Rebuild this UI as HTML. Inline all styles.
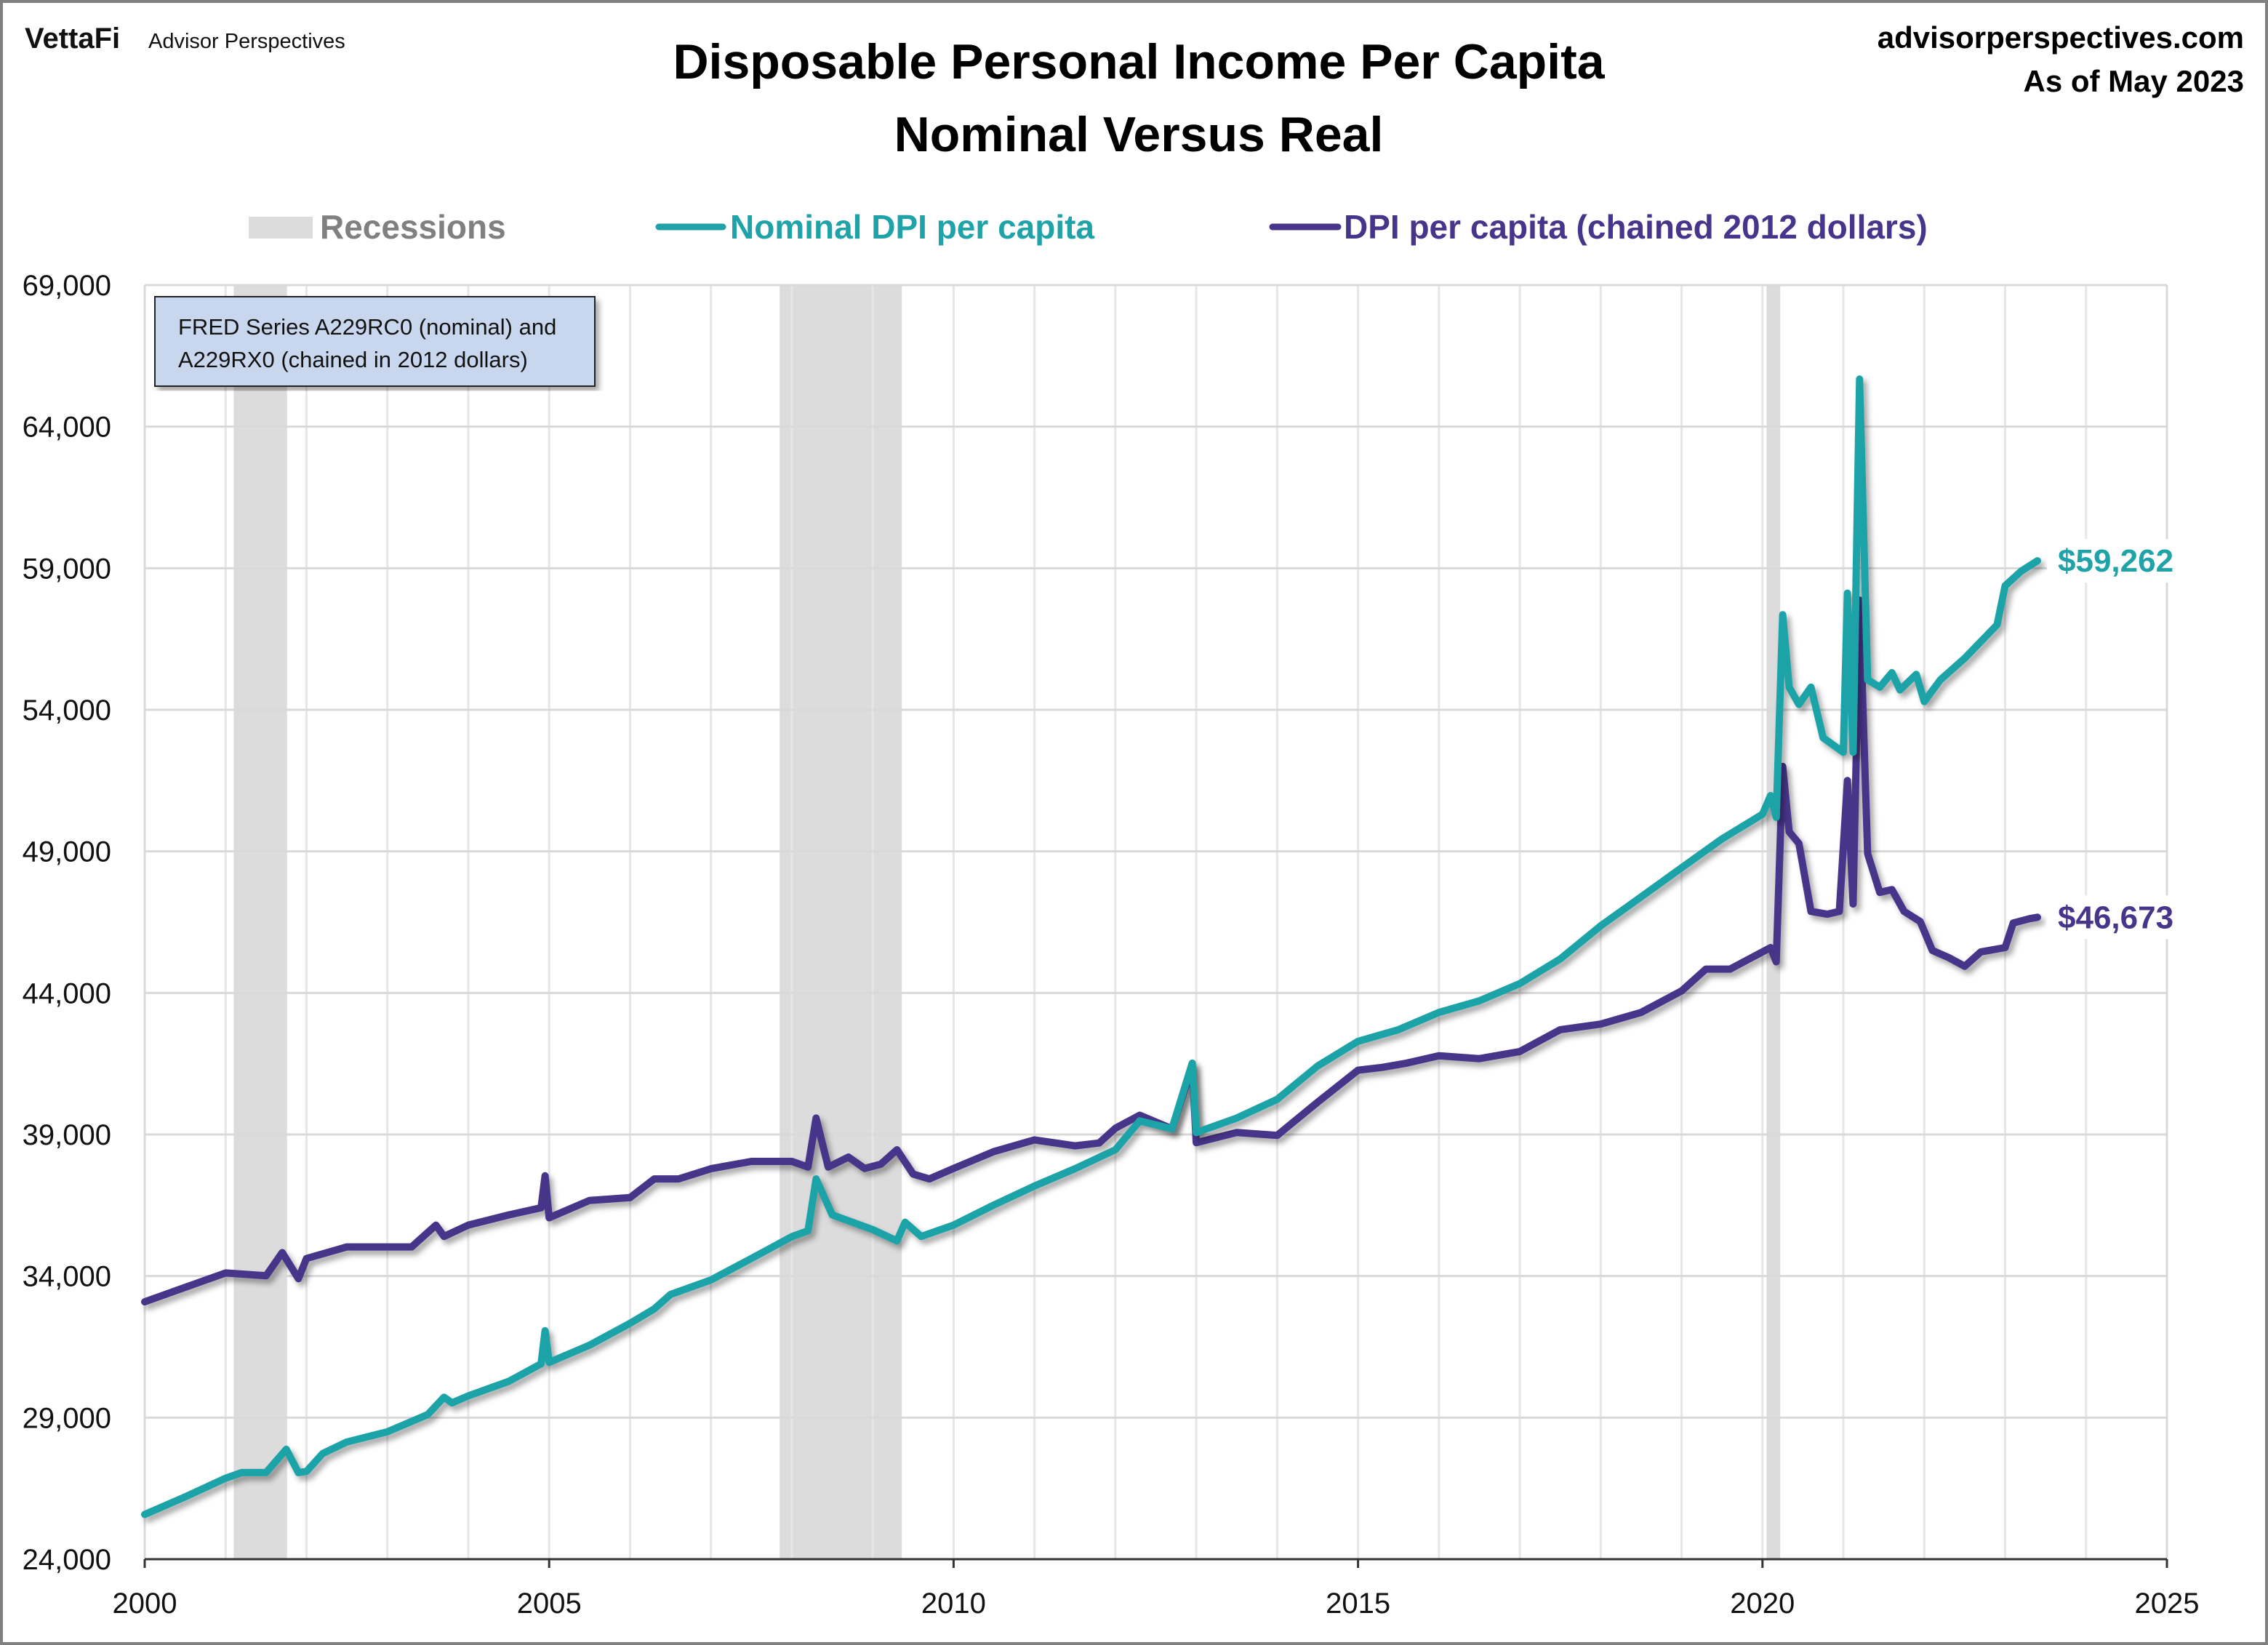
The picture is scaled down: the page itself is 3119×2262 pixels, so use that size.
<!DOCTYPE html>
<html><head><meta charset="utf-8">
<style>
html,body{margin:0;padding:0;background:#fff;}
svg{display:block;font-family:"Liberation Sans",sans-serif;}
</style></head>
<body>
<svg id="chart" width="3119" height="2262" viewBox="0 0 3119 2262" xmlns="http://www.w3.org/2000/svg">
<defs>
<filter id="shadow" x="-5%" y="-5%" width="110%" height="110%">
<feDropShadow dx="5" dy="6" stdDeviation="4" flood-color="#000" flood-opacity="0.35"/>
</filter>
</defs>
<rect x="2" y="2" width="3115" height="2258" fill="#fff" stroke="#808080" stroke-width="4"/>
<text x="34" y="66" font-size="40" font-weight="bold" fill="#111">VettaFi</text>
<text x="204" y="66" font-size="29" fill="#111">Advisor Perspectives</text>
<text x="1566" y="108" font-size="68" font-weight="bold" text-anchor="middle" fill="#000">Disposable Personal Income Per Capita</text>
<text x="1566" y="208" font-size="68" font-weight="bold" text-anchor="middle" fill="#000">Nominal Versus Real</text>
<text x="3086" y="66" font-size="42" font-weight="bold" text-anchor="end" fill="#000">advisorperspectives.com</text>
<text x="3086" y="126" font-size="42" font-weight="bold" text-anchor="end" fill="#000">As of May 2023</text>

<g>
<rect x="342" y="298" width="88" height="30" fill="#dcdcdc"/>
<text x="440" y="328" font-size="46" font-weight="bold" fill="#808080">Recessions</text>
<line x1="906" y1="312" x2="994" y2="312" stroke="#1fa3a8" stroke-width="9" stroke-linecap="round"/>
<text x="1004" y="328" font-size="46" font-weight="bold" fill="#1fa3a8">Nominal DPI per capita</text>
<line x1="1750" y1="312" x2="1840" y2="312" stroke="#46358a" stroke-width="9" stroke-linecap="round"/>
<text x="1848" y="328" font-size="46" font-weight="bold" fill="#46358a">DPI per capita (chained 2012 dollars)</text>
</g>

<g id="recG"></g>
<g id="gridG"></g>
<g id="axisG"></g>
<g id="lineG"></g>

<g>
<rect x="213" y="408" width="605" height="123" fill="#c9d7ee" stroke="#222" stroke-width="2" filter="url(#shadow)"/>
<text x="245" y="460" font-size="31" fill="#111">FRED Series A229RC0 (nominal) and</text>
<text x="245" y="505" font-size="31" fill="#111">A229RX0 (chained in 2012 dollars)</text>
</g>
<g id="endG"></g>
</svg>
<script>
const yTicks=[24000,29000,34000,39000,44000,49000,54000,59000,64000,69000];
const xTickYears=[2000,2005,2010,2015,2020,2025];
const recessionStarts=[2001.1,2007.85,2020.05];
const recessionEnds=[2001.76,2009.36,2020.22];
const nominalDates=[2000.0,2000.5,2001.0,2001.2,2001.5,2001.75,2001.9,2002.0,2002.2,2002.5,2003.0,2003.5,2003.7,2003.8,2004.0,2004.5,2004.9,2004.95,2005.0,2005.5,2006.0,2006.3,2006.5,2007.0,2007.5,2008.0,2008.2,2008.3,2008.5,2009.0,2009.3,2009.4,2009.6,2010.0,2010.5,2011.0,2011.5,2012.0,2012.3,2012.7,2012.95,2013.0,2013.5,2014.0,2014.5,2015.0,2015.5,2016.0,2016.5,2017.0,2017.5,2018.0,2018.5,2019.0,2019.5,2020.0,2020.1,2020.17,2020.25,2020.33,2020.45,2020.6,2020.75,2021.0,2021.05,2021.12,2021.2,2021.3,2021.45,2021.6,2021.7,2021.9,2022.0,2022.2,2022.5,2022.9,2023.0,2023.2,2023.4];
const nominalValues=[25580,26200,26860,27060,27060,27880,27060,27100,27730,28140,28500,29110,29720,29520,29770,30280,30900,32070,30950,31560,32330,32840,33350,33860,34620,35390,35600,37430,36160,35640,35240,35900,35400,35800,36510,37180,37790,38460,39480,39200,41520,39070,39580,40240,41420,42290,42700,43310,43720,44330,45200,46370,47390,48420,49440,50310,50970,50200,57360,54800,54190,54800,53010,52500,58120,52500,65680,55060,54800,55310,54700,55250,54290,55060,55820,57000,58380,58900,59262];
const realDates=[2000.0,2000.5,2001.0,2001.5,2001.7,2001.9,2002.0,2002.5,2003.0,2003.3,2003.6,2003.7,2004.0,2004.5,2004.9,2004.95,2005.0,2005.5,2006.0,2006.3,2006.6,2007.0,2007.5,2008.0,2008.2,2008.3,2008.45,2008.7,2008.9,2009.1,2009.3,2009.5,2009.7,2010.0,2010.5,2011.0,2011.5,2011.8,2012.0,2012.3,2012.7,2012.95,2013.0,2013.5,2014.0,2014.5,2015.0,2015.3,2015.6,2016.0,2016.5,2017.0,2017.5,2018.0,2018.5,2019.0,2019.3,2019.6,2020.0,2020.1,2020.17,2020.25,2020.33,2020.45,2020.6,2020.8,2020.95,2021.05,2021.12,2021.2,2021.3,2021.45,2021.6,2021.75,2021.95,2022.1,2022.3,2022.5,2022.7,2023.0,2023.1,2023.3,2023.4];
const realValues=[33090,33600,34110,34010,34830,33910,34620,35030,35030,35030,35800,35400,35800,36160,36410,37540,36060,36670,36770,37430,37430,37790,38050,38050,37850,39580,37850,38200,37800,37950,38460,37600,37430,37800,38400,38810,38600,38700,39220,39680,39200,41420,38710,39070,38970,40140,41270,41370,41520,41780,41680,41930,42700,42900,43310,44070,44840,44840,45450,45600,45100,52000,49690,49280,46880,46780,46880,51500,47140,57870,48920,47550,47650,46880,46520,45500,45250,44940,45450,45600,46470,46620,46673];

const NS='http://www.w3.org/2000/svg';
const X0=199,X1=2980,Y0=2144,Y1=392;
const xOf=t=>X0+(t-2000)/25*(X1-X0);
const yOf=v=>Y0-(v-24000)/45000*(Y0-Y1);
function mk(tag,attrs,parent){const e=document.createElementNS(NS,tag);for(const k in attrs)e.setAttribute(k,attrs[k]);parent.appendChild(e);return e;}
const recG=document.getElementById('recG'),gridG=document.getElementById('gridG'),axisG=document.getElementById('axisG'),lineG=document.getElementById('lineG'),endG=document.getElementById('endG');

recessionStarts.forEach((s,i)=>{
  const r=mk('rect',{x:xOf(s),y:Y1,width:xOf(recessionEnds[i])-xOf(s),height:Y0-Y1,fill:'#dcdcdc'},recG);
  
  
});
for(let yr=2001;yr<2025;yr++){
  const l=mk('line',{x1:xOf(yr),x2:xOf(yr),y1:Y1,y2:Y0,stroke:'#e6e6e6','stroke-width':3},gridG);
  
  
}
yTicks.forEach(v=>{
  const l=mk('line',{x1:X0,x2:X1,y1:yOf(v),y2:yOf(v),stroke:'#d9d9d9','stroke-width':3},gridG);
  
  
  const t=mk('text',{x:153,y:yOf(v)+14,'font-size':40,'text-anchor':'end',fill:'#111'},axisG);
  t.textContent=v.toLocaleString('en-US');
  
  
});
const rl=mk('line',{x1:X1,x2:X1,y1:Y1,y2:Y0,stroke:'#d9d9d9','stroke-width':3},gridG);


const ll=mk('line',{x1:X0,x2:X0,y1:Y1,y2:Y0,stroke:'#d9d9d9','stroke-width':3},axisG);


const xl=mk('line',{x1:X0,x2:X1,y1:Y0,y2:Y0,stroke:'#333','stroke-width':3},axisG);


xTickYears.forEach(yr=>{
  const tk=mk('line',{x1:xOf(yr),x2:xOf(yr),y1:Y0,y2:Y0+12,stroke:'#333','stroke-width':3},axisG);
  
  
  const t=mk('text',{x:xOf(yr),y:2218,'font-size':40,'text-anchor':'middle',fill:'#111'},axisG);
  t.textContent=yr;
  
  
});
function drawLine(dates,vals,color,name){
  const d=dates.map((t,i)=>(i?'L':'M')+xOf(t).toFixed(1)+','+yOf(vals[i]).toFixed(1)).join(' ');
  const p=mk('path',{d:d,fill:'none',stroke:color,'stroke-width':10,'stroke-linejoin':'round','stroke-linecap':'round',filter:'url(#shadow)'},lineG);
  
  
}
drawLine(realDates,realValues,'#46358a','real-dpi-line');
drawLine(nominalDates,nominalValues,'#1fa3a8','nominal-dpi-line');
function endLabel(dates,vals,color,name){
  const v=vals[vals.length-1],y=yOf(v);
  const bg=mk('rect',{x:2815,y:y-30,width:200,height:60,fill:'#fff'},endG);
  
  
  const t=mk('text',{x:2830,y:y+15,'font-size':44,'font-weight':'bold',fill:color},endG);
  t.textContent='$'+v.toLocaleString('en-US');
  
  
}
endLabel(nominalDates,nominalValues,'#1fa3a8','nominal-end-label');
endLabel(realDates,realValues,'#46358a','real-end-label');
</script>
</body></html>
